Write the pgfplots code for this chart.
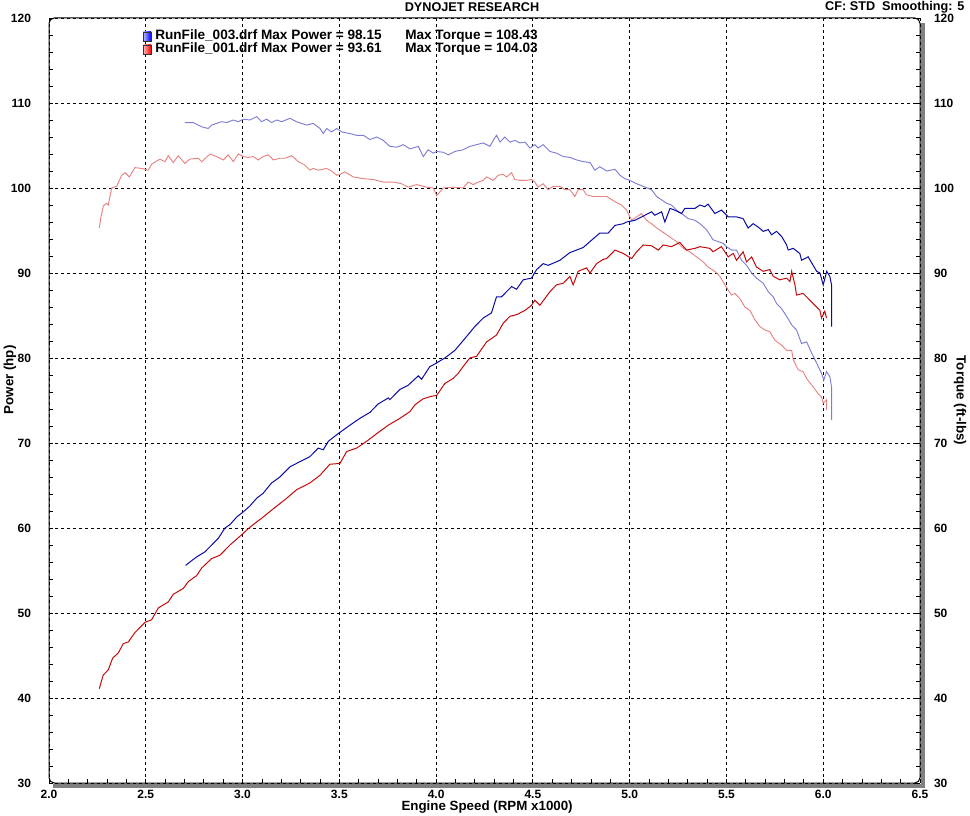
\documentclass[border=0pt]{standalone}
\usepackage{pgfplots}
\pgfplotsset{compat=1.18}
\usepackage{pgfplotstable}
\usepackage{fontspec}
\setmainfont{Liberation Sans}
\definecolor{pwrA}{RGB}{10,10,165}
\definecolor{trqA}{RGB}{125,125,215}
\definecolor{pwrB}{RGB}{195,10,10}
\definecolor{trqB}{RGB}{232,130,130}
\definecolor{shadowgray}{RGB}{128,128,128}

% RunFile_003 power (hp)
\pgfplotstableread{
x y
2.706 55.6
2.728 56.0
2.763 56.6
2.806 57.2
2.832 57.8
2.875 58.8
2.909 60.0
2.935 60.4
2.970 61.3
3.004 61.9
3.038 62.6
3.073 63.5
3.107 64.1
3.150 65.3
3.193 66.0
3.245 67.2
3.296 67.8
3.348 68.4
3.391 69.4
3.417 69.2
3.443 70.2
3.494 71.1
3.555 72.1
3.606 72.9
3.658 73.6
3.701 74.6
3.753 75.3
3.761 75.1
3.813 76.3
3.856 76.8
3.908 77.9
3.925 77.5
3.968 79.0
3.994 79.3
4.045 80.0
4.097 80.9
4.149 82.3
4.200 83.7
4.243 84.7
4.286 85.3
4.312 87.2
4.338 87.2
4.364 87.8
4.390 88.4
4.416 88.1
4.450 89.2
4.493 89.4
4.519 90.4
4.553 91.1
4.579 90.9
4.640 91.5
4.691 92.4
4.726 92.7
4.760 93.0
4.800 93.8
4.846 94.7
4.889 94.7
4.924 95.6
4.967 95.8
4.984 96.0
5.027 96.2
5.079 96.8
5.113 97.2
5.130 96.8
5.165 97.2
5.182 96.0
5.208 97.6
5.233 97.4
5.268 97.0
5.285 97.6
5.337 97.6
5.363 98.0
5.388 97.8
5.405 98.1
5.440 97.0
5.474 97.4
5.509 96.6
5.552 96.6
5.586 96.4
5.612 95.3
5.638 95.8
5.664 95.4
5.690 94.9
5.716 95.1
5.733 94.5
5.759 94.9
5.785 94.3
5.811 93.3
5.819 92.7
5.845 92.9
5.879 92.3
5.888 91.5
5.922 91.9
5.948 90.9
5.966 90.2
5.983 90.0
6.000 88.6
6.018 90.2
6.034 89.6
6.043 88.6
6.043 83.7
}\bp

% RunFile_001 power (hp)
\pgfplotstableread{
x y
2.260 41.1
2.280 42.7
2.306 43.3
2.329 44.7
2.358 45.3
2.384 46.4
2.410 46.6
2.444 47.7
2.496 48.9
2.530 49.2
2.565 50.6
2.616 51.3
2.642 52.2
2.694 52.9
2.720 53.7
2.763 54.4
2.789 55.3
2.840 56.4
2.883 56.8
2.935 58.0
2.995 59.2
3.038 60.1
3.107 61.3
3.150 62.1
3.228 63.5
3.279 64.5
3.348 65.3
3.400 66.2
3.451 67.5
3.503 67.6
3.538 69.0
3.589 69.4
3.641 70.2
3.693 71.1
3.753 72.1
3.813 72.9
3.865 73.7
3.891 74.5
3.933 75.2
3.977 75.5
4.003 75.6
4.045 77.0
4.088 77.6
4.114 78.2
4.140 79.0
4.174 80.0
4.209 80.2
4.261 81.9
4.312 82.7
4.347 84.1
4.381 84.9
4.416 85.1
4.459 85.6
4.493 86.2
4.510 86.8
4.536 86.2
4.562 87.0
4.588 87.8
4.622 88.6
4.657 88.8
4.691 89.6
4.708 88.6
4.734 90.2
4.777 90.6
4.795 90.0
4.829 91.1
4.863 91.6
4.881 91.7
4.924 92.7
4.967 92.3
5.010 91.7
5.036 92.5
5.070 93.3
5.113 93.2
5.148 92.7
5.173 93.3
5.216 93.1
5.259 93.6
5.294 92.7
5.337 92.9
5.363 93.1
5.414 92.9
5.431 92.5
5.474 93.1
5.509 91.9
5.535 92.3
5.552 91.5
5.586 92.5
5.604 91.3
5.630 91.9
5.655 90.7
5.690 90.2
5.724 90.4
5.742 89.6
5.776 89.2
5.811 89.4
5.828 89.0
5.837 90.2
5.854 88.6
5.862 87.4
5.896 87.6
5.914 87.2
5.948 86.4
5.983 85.6
5.991 84.7
6.008 85.5
6.017 84.7
}\rp

% RunFile_003 torque (ft-lbs)
\pgfplotstableread{
x y
2.702 107.7
2.745 107.7
2.789 107.2
2.823 107.0
2.840 107.4
2.866 107.6
2.892 107.8
2.918 107.7
2.952 108.0
2.978 107.8
3.004 108.1
3.038 108.0
3.073 108.4
3.099 107.8
3.124 108.1
3.150 107.7
3.176 108.0
3.202 107.8
3.245 108.2
3.279 107.8
3.331 107.4
3.365 107.6
3.400 107.0
3.417 106.4
3.434 107.0
3.460 106.6
3.486 107.0
3.512 106.6
3.555 106.4
3.589 106.2
3.624 106.2
3.658 105.7
3.693 106.0
3.727 105.6
3.761 104.9
3.796 104.8
3.830 105.1
3.865 104.6
3.908 104.9
3.934 103.7
3.959 104.5
3.985 104.1
4.003 104.3
4.037 104.2
4.063 103.9
4.097 104.3
4.140 104.5
4.174 104.9
4.209 105.1
4.243 105.3
4.278 104.9
4.295 105.6
4.312 106.2
4.330 105.4
4.355 106.0
4.381 105.4
4.407 105.6
4.433 105.3
4.459 105.4
4.485 104.7
4.510 105.1
4.527 104.7
4.553 105.1
4.588 104.3
4.622 104.1
4.657 103.7
4.691 103.6
4.726 103.3
4.760 103.1
4.795 103.0
4.820 102.1
4.846 102.5
4.881 102.0
4.924 102.2
4.950 101.5
4.975 101.1
5.001 100.9
5.036 100.5
5.070 100.2
5.113 99.8
5.139 99.0
5.165 98.6
5.191 98.2
5.216 98.0
5.242 97.4
5.268 97.0
5.302 96.4
5.337 96.2
5.363 95.8
5.397 95.1
5.431 93.9
5.457 93.7
5.483 93.5
5.500 93.1
5.526 92.7
5.552 92.7
5.578 91.5
5.604 90.9
5.630 90.0
5.655 89.4
5.690 88.8
5.716 87.8
5.742 87.2
5.759 86.4
5.785 85.8
5.811 84.9
5.837 83.9
5.862 83.3
5.888 81.7
5.914 81.9
5.940 80.6
5.966 79.4
5.991 78.2
6.003 77.4
6.017 78.4
6.034 77.8
6.043 76.6
6.043 72.7
}\bt

% RunFile_001 torque (ft-lbs)
\pgfplotstableread{
x y
2.260 95.3
2.267 96.4
2.281 97.9
2.298 98.2
2.306 98.0
2.324 100.0
2.350 100.2
2.375 101.5
2.393 101.8
2.415 101.3
2.444 102.4
2.479 102.3
2.513 102.1
2.530 102.8
2.573 103.4
2.599 103.1
2.616 103.8
2.642 103.0
2.668 103.8
2.702 102.9
2.728 103.4
2.771 103.5
2.789 103.1
2.832 104.0
2.875 103.6
2.900 103.3
2.926 103.9
2.952 103.1
2.978 104.0
3.004 103.7
3.029 103.6
3.055 103.7
3.081 103.3
3.107 103.7
3.133 103.9
3.159 103.3
3.193 103.5
3.219 103.5
3.254 103.8
3.288 103.1
3.322 102.7
3.348 102.1
3.365 102.3
3.391 102.1
3.434 102.3
3.460 102.0
3.486 101.5
3.503 101.6
3.529 101.9
3.572 101.3
3.624 101.1
3.675 101.0
3.727 100.7
3.778 100.7
3.822 100.5
3.856 100.1
3.899 100.4
3.951 100.1
3.985 100.0
4.003 99.1
4.037 100.0
4.088 100.1
4.140 100.0
4.166 100.7
4.192 100.4
4.218 100.7
4.243 100.9
4.261 101.3
4.295 100.9
4.321 101.5
4.347 101.6
4.364 101.3
4.390 101.8
4.407 101.0
4.433 100.9
4.467 100.9
4.493 101.0
4.510 100.7
4.527 100.1
4.553 100.5
4.579 99.8
4.605 100.2
4.640 100.2
4.665 99.8
4.691 99.8
4.717 99.0
4.734 99.8
4.760 99.8
4.777 99.2
4.812 99.0
4.846 99.0
4.881 99.0
4.924 98.4
4.958 98.0
4.984 97.4
5.010 96.2
5.036 96.6
5.061 97.0
5.087 96.2
5.113 95.8
5.139 95.3
5.165 94.9
5.191 94.5
5.216 94.1
5.242 93.7
5.277 92.9
5.311 92.5
5.345 91.9
5.380 91.3
5.405 90.7
5.440 90.2
5.466 89.6
5.492 88.6
5.509 88.0
5.526 87.4
5.543 87.6
5.569 87.0
5.595 86.0
5.621 85.6
5.647 84.5
5.673 83.7
5.698 83.3
5.724 83.1
5.750 82.1
5.785 81.5
5.811 80.9
5.837 80.9
5.845 79.8
5.871 78.6
5.896 78.4
5.914 77.6
5.948 76.6
5.974 75.8
5.991 75.4
6.000 74.7
6.017 75.1
6.017 73.9
}\rt

\begin{document}
\begin{tikzpicture}
\useasboundingbox (-36.75pt,-24pt) rectangle (690.75pt,587.25pt);
\pgfplotsset{dyno/.style={
  scale only axis, width=653.25pt, height=573.75pt,
  at={(0pt,0pt)}, anchor=south west,
  xmin=2, xmax=6.5, ymin=30, ymax=120,
  xtick={2,2.5,...,6.5}, ytick={30,40,...,120},
  minor x tick num=4, minor y tick num=4,
  tick align=inside, major tick length=3pt, minor tick length=3pt,
  every tick/.style={black, line width=0.6pt},
  axis line style={draw=none},
  every tick label/.append style={font=\fontsize{9}{10}\selectfont\bfseries},
  /pgf/number format/assume math mode=true,
  label style={font=\fontsize{10}{12}\selectfont\bfseries},
}}
% torque (right axis)
\begin{axis}[dyno, xtick pos=bottom, xticklabels={}, ytick pos=right, yticklabel pos=right,
  grid=major, major grid style={black, line width=0.6pt, dash pattern=on 2.5pt off 2pt},
  yticklabel style={xshift=7pt},
  ylabel={Torque (ft-lbs)},
  ylabel style={at={(axis description cs:1.046,0.5)}, anchor=center, rotate=180}]
\addplot[trqA, line width=0.7pt] table {\bt};
\addplot[trqB, line width=0.7pt] table {\rt};
\end{axis}
% power (left axis)
\begin{axis}[dyno, xtick pos=bottom, ytick pos=left,
  xticklabel style={yshift=-2pt, /pgf/number format/fixed, /pgf/number format/fixed zerofill, /pgf/number format/precision=1},
  yticklabel style={xshift=-10pt},
  xlabel={Engine Speed (RPM x1000)},
  xlabel style={at={(axis description cs:0.503,-0.0314)}, anchor=center},
  ylabel={Power (hp)},
  ylabel style={at={(axis description cs:-0.045,0.527)}, anchor=center}]
\addplot[pwrA, line width=0.75pt] table {\bp};
\addplot[pwrB, line width=0.75pt] table {\rp};
\end{axis}
% frame with shadow
\fill[shadowgray] (653.75pt,-3.75pt) rectangle (657pt,570pt);
\fill[shadowgray] (3pt,-3.75pt) rectangle (657pt,-0.5pt);
\draw[black, line width=0.75pt, rounded corners=4pt] (0pt,0pt) rectangle (653.25pt,573.75pt);
% header texts
\node[font=\fontsize{9.5}{11}\selectfont\bfseries] at (317.25pt,582pt) {DYNOJET RESEARCH};
\node[anchor=east, font=\fontsize{9.5}{11}\selectfont\bfseries] at (690pt,582pt) {CF: STD\ \ Smoothing: 5};
% legend
\shade[left color=blue!25, right color=blue, draw=black!80, line width=0.4pt] (70.5pt,556.5pt) rectangle (76.5pt,563.25pt);
\shade[left color=red!25, right color=red, draw=black!80, line width=0.4pt] (70.5pt,546.75pt) rectangle (76.5pt,553.5pt);
\node[anchor=base west, inner sep=0pt, font=\fontsize{10.2}{11}\selectfont\bfseries] at (79.5pt,557.25pt) {RunFile\_003.drf Max Power = 98.15};
\node[anchor=base west, inner sep=0pt, font=\fontsize{10.2}{11}\selectfont\bfseries] at (267pt,557.25pt) {Max Torque = 108.43};
\node[anchor=base west, inner sep=0pt, font=\fontsize{10.2}{11}\selectfont\bfseries] at (79.5pt,547.5pt) {RunFile\_001.drf Max Power = 93.61};
\node[anchor=base west, inner sep=0pt, font=\fontsize{10.2}{11}\selectfont\bfseries] at (267pt,547.5pt) {Max Torque = 104.03};
\end{tikzpicture}
\end{document}
